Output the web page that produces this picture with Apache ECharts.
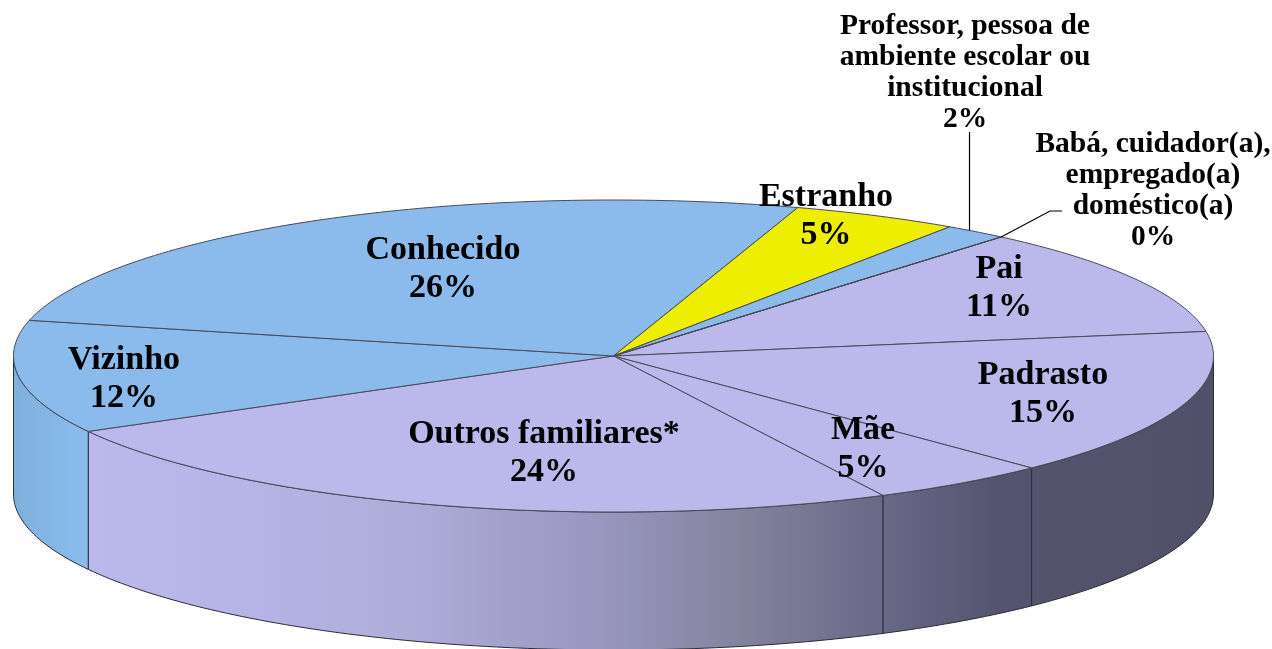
<!DOCTYPE html>
<html><head><meta charset="utf-8">
<style>html,body{margin:0;padding:0;background:#fff}#c{width:1272px;height:649px}</style>
<script src="https://cdn.jsdelivr.net/npm/echarts@6/dist/echarts.min.js"></script>
</head><body><div id="c"></div>
<script>
const categories = ['Pai','Padrasto','Mãe','Outros familiares*','Vizinho','Conhecido','Estranho','Professor, pessoa de\nambiente escolar ou\ninstitucional','Babá, cuidador(a),\nempregado(a)\ndoméstico(a)'];
const values = [11.3,15.25,4.86,24.38,11.7,26.3,4.5,1.71,0.0];
const colorGroup = ['family','family','family','family','other','other','stranger','other','other'];

// layout only
const CX=613.5, CY=356, RX=600, RY=156, DEPTH=138, START=40.25;
const FONT='"Liberation Serif"';
const topColors={family:'#bbb9ec',other:'#8abbec',stranger:'#eeee00'};
const labelAnchors=[[999,288],[1043,394],[863,449],[544,453],[124,379],[443,269],[826,216],[965,73],[1153,191]];
const leaderEnds=[null,null,null,null,null,null,null,[[969.5,132]],[[1050,211],[1062,211]]];

const total=values.reduce((a,b)=>a+b,0);
let acc=START;
const slices=values.map((v,i)=>{const s=acc;acc+=v/total*360;return [s,acc,i];});
const pt=(deg,dy)=>{const r=deg*Math.PI/180;return [CX+RX*Math.sin(r),CY-RY*Math.cos(r)+(dy||0)];};
const arc=(a,b,dy)=>{const n=Math.max(1,Math.ceil(Math.abs(b-a)));const p=[];for(let k=0;k<=n;k++)p.push(pt(a+(b-a)*k/n,dy));return p;};
const rimAtX=x=>[x,CY-RY*Math.sqrt(1-Math.pow((x-CX)/RX,2))];
const grad=(x,x2,stops)=>({type:'linear',x:x,y:0,x2:x2,y2:0,global:true,colorStops:stops});
const sideFill=grad(14,1214,[
 {offset:0,color:'#7fb0dc'},{offset:0.0616,color:'#8abcee'},
 {offset:0.0617,color:'#bbb9ec'},{offset:0.2,color:'#b6b4e6'},{offset:0.33,color:'#aeacd8'},
 {offset:0.48,color:'#9a98c2'},{offset:0.6,color:'#85849f'},{offset:0.72,color:'#6a6988'},
 {offset:0.82,color:'#545470'},{offset:1,color:'#50506a'}]);

function renderSide(params,api){
  const a=Math.max(api.value(0),90);
  const b=Math.min(api.value(1),270);
  if(b<=a) return {type:'group',children:[]};
  const top=arc(a,b,0), bot=arc(b,a,DEPTH);
  return {type:'polygon',shape:{points:top.concat(bot)},
    style:{fill:sideFill,stroke:'#2b2b38',lineWidth:1}};
}
function renderTop(params,api){
  const a=api.value(0), b=api.value(1), i=api.value(2);
  return {type:'polygon',shape:{points:[[CX,CY]].concat(arc(a,b,0))},
    style:{fill:topColors[colorGroup[i]],stroke:'#4a4a58',lineWidth:1}};
}
function renderLabel(params,api){
  const a=api.value(0), i=api.value(2);
  const small=i>=7, pos=labelAnchors[i];
  const children=[{type:'text',x:pos[0],y:pos[1],z2:10,style:{
    text:categories[i]+'\n'+Math.round(values[i])+'%',
    font:'bold '+(small?29.5:34)+'px '+FONT,lineHeight:small?31:38,
    fill:'#000',align:'center',verticalAlign:'middle'}}];
  if(leaderEnds[i]){
    const anchor=i===8?pt(a):rimAtX(leaderEnds[i][0][0]);
    children.push({type:'polyline',z2:9,shape:{points:[anchor].concat(leaderEnds[i])},
      style:{stroke:'#000',lineWidth:1.2,fill:null}});
  }
  return {type:'group',children};
}
const chart=echarts.init(document.getElementById('c'),null,{renderer:'canvas'});
chart.setOption({animation:false,backgroundColor:'#fff',tooltip:{show:false},
  series:[
   {type:'custom',coordinateSystem:'none',z:1,silent:true,renderItem:renderSide,data:slices},
   {type:'custom',coordinateSystem:'none',z:2,silent:true,renderItem:renderTop,data:slices},
   {type:'custom',coordinateSystem:'none',z:3,silent:true,renderItem:renderLabel,data:slices}
  ]});
</script></body></html>
